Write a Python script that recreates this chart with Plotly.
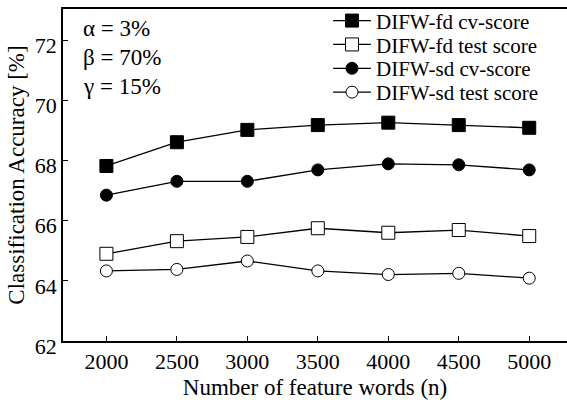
import plotly.graph_objects as go

n_words = [2000, 2500, 3000, 3500, 4000, 4500, 5000]
fd_cv = [67.82, 68.61, 69.02, 69.18, 69.26, 69.18, 69.09]
fd_test = [64.90, 65.32, 65.46, 65.75, 65.60, 65.69, 65.49]
sd_cv = [66.85, 67.31, 67.31, 67.69, 67.89, 67.86, 67.69]
sd_test = [64.33, 64.38, 64.66, 64.33, 64.21, 64.25, 64.09]
x_ticks = [2000, 2500, 3000, 3500, 4000, 4500, 5000]
y_ticks = [62, 64, 66, 68, 70, 72]
params = ["α = 3%", "β = 70%", "γ = 15%"]
names = ["DIFW-fd cv-score", "DIFW-fd test score", "DIFW-sd cv-score", "DIFW-sd test score"]

FONT = "Liberation Serif"
TOP, BOT = 7, 61
PH = 402 - TOP - BOT

series = [
    (names[0], fd_cv, "square", "black"),
    (names[1], fd_test, "square", "white"),
    (names[2], sd_cv, "circle", "black"),
    (names[3], sd_test, "circle", "white"),
]
legend_rows_px = [19, 43, 67, 91]

fig = go.Figure()
layout_legends = {}
for i, (name, vals, sym, fill) in enumerate(series):
    lname = "legend" if i == 0 else f"legend{i+1}"
    fig.add_trace(go.Scatter(
        x=n_words, y=vals, name=name, mode="lines+markers", legend=lname,
        line=dict(color="black", width=1.3),
        marker=dict(symbol=sym, size=12 if sym == "circle" else 13, color=fill,
                    line=dict(color="black", width=1)),
    ))
    layout_legends[lname] = dict(
        x=(328 - 63) / 504, y=1 - (legend_rows_px[i] - TOP) / PH,
        xanchor="left", yanchor="middle", bgcolor="rgba(0,0,0,0)",
        font=dict(family=FONT, size=21, color="black"), itemwidth=38,
    )

for i, t in enumerate(params):
    fig.add_annotation(text=t, xref="paper", yref="paper", x=0.035,
                       y=0.94 - i * 0.086, xanchor="left", yanchor="middle",
                       showarrow=False, font=dict(family=FONT, size=23, color="black"))

fig.update_layout(
    width=567, height=402,
    margin=dict(l=63, r=0, t=TOP, b=BOT),
    paper_bgcolor="white", plot_bgcolor="white",
    font=dict(family=FONT, size=22, color="black"),
    showlegend=True,
    **layout_legends,
)
fig.update_xaxes(
    range=[1692, 5268], tickvals=x_ticks, ticks="inside", ticklen=5,
    showline=True, linecolor="black", linewidth=1.5, mirror=True,
    showgrid=False, zeroline=False, tickcolor="black",
    title=dict(text="Number of feature words (n)", standoff=6,
               font=dict(family=FONT, size=23)),
    tickfont=dict(family=FONT, size=22),
)
fig.update_yaxes(
    range=[62, 73.04], tickvals=y_ticks, ticks="inside", ticklen=5,
    showline=True, linecolor="black", linewidth=1.5, mirror=False,
    showgrid=False, zeroline=False, tickcolor="black",
    title=dict(text="Classification Accuracy [%]", standoff=4,
               font=dict(family=FONT, size=23)),
    tickfont=dict(family=FONT, size=22), ticklabelshift=5,
)

fig.write_html("out.html")
